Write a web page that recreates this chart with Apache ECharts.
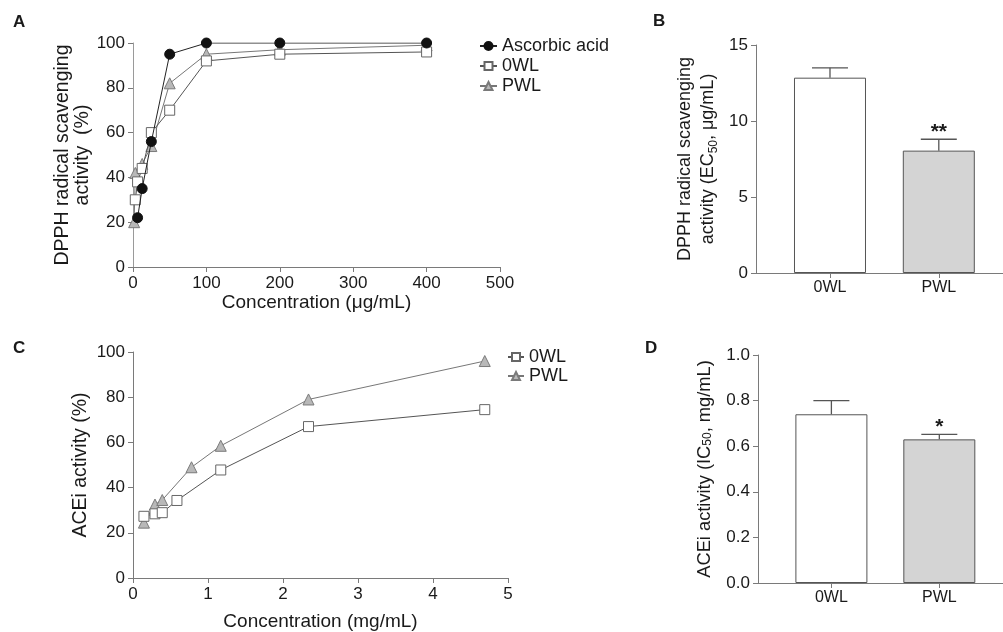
<!DOCTYPE html>
<html>
<head>
<meta charset="utf-8">
<script src="https://cdn.jsdelivr.net/npm/echarts@6/dist/echarts.min.js"></script>
<style>
  html, body { margin: 0; padding: 0; background: #fff; }
  #chart { width: 1003px; height: 632px; }
</style>
</head>
<body>
<div id="chart"></div>
<script>
// panel A - DPPH radical scavenging (%), concentration in ug/mL
var ascorbicX = [6.25, 12.5, 25, 50, 100, 200, 400];
var ascorbicY = [22, 35, 56, 95, 100, 100, 100];
var owlAX = [3.125, 6.25, 12.5, 25, 50, 100, 200, 400];
var owlAY = [30, 38, 44, 60, 70, 92, 95, 96];
var pwlAX = [1.5625, 3.125, 12.5, 25, 50, 100, 200, 400];
var pwlAY = [20, 42, 46, 54, 82, 95, 97, 99];

// panel B - EC50 (ug/mL)
var groups = ['0WL', 'PWL'];
var ec50Mean = [12.85, 8.05];
var ec50Err = [0.65, 0.75];
var ec50Sig = ['', '**'];

// panel C - ACEi activity (%), concentration in mg/mL
var owlCX = [0.146, 0.293, 0.39, 0.586, 1.17, 2.34, 4.69];
var owlCY = [27.3, 28.4, 28.9, 34.3, 47.8, 67, 74.5];
var pwlCX = [0.146, 0.293, 0.39, 0.78, 1.17, 2.34, 4.69];
var pwlCY = [24.5, 32.5, 34.5, 49, 58.5, 79, 96];

// panel D - IC50 (mg/mL)
var ic50Mean = [0.74, 0.63];
var ic50Err = [0.06, 0.022];
var ic50Sig = ['', '*'];

var FONT = '"Liberation Sans", Arial, sans-serif';
var TXT = '#1a1a1a';
var AXC = '#7a7a7a';

function zip(xs, ys) {
    return xs.map(function (x, i) { return [x, ys[i]]; });
}

function valueAxis(idx, min, max, interval, extra) {
    var ax = {
        type: 'value',
        gridIndex: idx,
        min: min,
        max: max,
        interval: interval,
        splitLine: { show: false },
        axisLine: { show: true, onZero: false, lineStyle: { color: AXC, width: 1 } },
        axisTick: { show: true, length: 5, lineStyle: { color: AXC } },
        axisLabel: { color: TXT, fontSize: 17, fontFamily: FONT, margin: 8 },
        nameTextStyle: { color: TXT, fontSize: 19, fontFamily: FONT }
    };
    for (var k in extra) ax[k] = extra[k];
    return ax;
}

// x axis for the bar panels: value axis so bars sit where the reference has them
function barXAxis(idx) {
    return {
        type: 'value',
        gridIndex: idx,
        min: -0.68,
        max: 1.59,
        splitLine: { show: false },
        axisLine: { show: true, onZero: false, lineStyle: { color: AXC, width: 1 } },
        axisTick: { show: true, length: 5, customValues: [0, 1], lineStyle: { color: AXC } },
        axisLabel: {
            customValues: [0, 1], color: TXT, fontSize: 16, fontFamily: FONT, margin: 7,
            formatter: function (v) { return groups[Math.round(v)]; }
        }
    };
}

function barData(means) {
    return means.map(function (m, i) {
        return {
            value: [i, m],
            itemStyle: { color: i === 0 ? '#ffffff' : '#d4d4d4', borderColor: '#555', borderWidth: 1 }
        };
    });
}

function errData(means, errs) {
    return means.map(function (m, i) { return [i, m, errs[i]]; });
}

var sigLookup = {};

function renderErr(params, api) {
    var x = api.value(0), m = api.value(1), e = api.value(2);
    var sig = sigLookup[params.seriesIndex][params.dataIndex];
    var base = api.coord([x, m]);
    var top = api.coord([x, m + e]);
    var st = { stroke: '#555', lineWidth: 1.3 };
    return {
        type: 'group',
        children: [
            { type: 'line', shape: { x1: base[0], y1: base[1], x2: top[0], y2: top[1] }, style: st },
            { type: 'line', shape: { x1: top[0] - 18, y1: top[1], x2: top[0] + 18, y2: top[1] }, style: st },
            { type: 'text', x: top[0], y: top[1] + 3,
              style: { text: sig, fill: TXT, font: 'bold 21px ' + FONT, align: 'center', verticalAlign: 'bottom' } }
        ]
    };
}

function lineSeries(name, data, xi, yi, opts) {
    var s = { type: 'line', name: name, xAxisIndex: xi, yAxisIndex: yi, data: data, showAllSymbol: true, animation: false };
    for (var k in opts) s[k] = opts[k];
    return s;
}

var ascStyle = {
    symbol: 'circle', symbolSize: 10, z: 5,
    lineStyle: { color: '#222', width: 1 },
    itemStyle: { color: '#111', borderColor: '#111', borderWidth: 1 }
};
var owlStyle = {
    symbol: 'rect', symbolSize: 10, z: 4,
    lineStyle: { color: '#555', width: 1 },
    itemStyle: { color: '#ffffff', borderColor: '#666', borderWidth: 1 }
};
var pwlStyle = {
    symbol: 'triangle', symbolSize: 11, z: 3,
    lineStyle: { color: '#777', width: 1 },
    itemStyle: { color: '#b8b8b8', borderColor: '#7a7a7a', borderWidth: 1 }
};

var chart = echarts.init(document.getElementById('chart'), null, { renderer: 'canvas' });

var series = [
    lineSeries('PWL', zip(pwlAX, pwlAY), 0, 0, pwlStyle),
    lineSeries('0WL', zip(owlAX, owlAY), 0, 0, owlStyle),
    lineSeries('Ascorbic acid', zip(ascorbicX, ascorbicY), 0, 0, ascStyle),
    { type: 'bar', xAxisIndex: 1, yAxisIndex: 1, barWidth: 72, data: barData(ec50Mean), animation: false },
    { type: 'custom', xAxisIndex: 1, yAxisIndex: 1, renderItem: renderErr, data: errData(ec50Mean, ec50Err), z: 4, animation: false },
    lineSeries('PWL', zip(pwlCX, pwlCY), 2, 2, pwlStyle),
    lineSeries('0WL', zip(owlCX, owlCY), 2, 2, owlStyle),
    { type: 'bar', xAxisIndex: 3, yAxisIndex: 3, barWidth: 72, data: barData(ic50Mean), animation: false },
    { type: 'custom', xAxisIndex: 3, yAxisIndex: 3, renderItem: renderErr, data: errData(ic50Mean, ic50Err), z: 4, animation: false }
];
sigLookup[4] = ec50Sig;
sigLookup[8] = ic50Sig;

var letterStyle = { fontSize: 17, fontWeight: 'bold', color: TXT, fontFamily: FONT };
var subRich = { sub: { fontSize: 12, verticalAlign: 'bottom', padding: [7, 0, 0, 0], fontFamily: FONT, color: TXT } };

chart.setOption({
    backgroundColor: '#fff',
    animation: false,
    textStyle: { fontFamily: FONT },
    title: [
        { text: 'A', left: 13, top: 14, textStyle: letterStyle, padding: 0 },
        { text: 'B', left: 653, top: 13, textStyle: letterStyle, padding: 0 },
        { text: 'C', left: 13, top: 340, textStyle: letterStyle, padding: 0 },
        { text: 'D', left: 645, top: 340, textStyle: letterStyle, padding: 0 }
    ],
    grid: [
        { left: 133, top: 43, width: 367, height: 224 },
        { left: 756, top: 45, width: 247, height: 228 },
        { left: 133, top: 352, width: 375, height: 228 },
        { left: 758, top: 355, width: 245, height: 228 }
    ],
    legend: [
        {
            orient: 'vertical', left: 479, top: 37, padding: 0, itemWidth: 17, itemHeight: 10, itemGap: 2,
            data: ['Ascorbic acid', '0WL', 'PWL'],
            textStyle: { color: TXT, fontSize: 18, fontFamily: FONT }
        },
        {
            orient: 'vertical', left: 507, top: 348, padding: 0, itemWidth: 16, itemHeight: 10, itemGap: 1,
            data: ['0WL', 'PWL'],
            textStyle: { color: TXT, fontSize: 18, fontFamily: FONT }
        }
    ],
    xAxis: [
        valueAxis(0, 0, 500, 100, { name: 'Concentration (μg/mL)', nameLocation: 'middle', nameGap: 25 }),
        barXAxis(1),
        valueAxis(2, 0, 5, 1, { name: 'Concentration (mg/mL)', nameLocation: 'middle', nameGap: 34 }),
        barXAxis(3)
    ],
    yAxis: [
        valueAxis(0, 0, 100, 20, {
            name: 'DPPH radical scavenging\nactivity  (%)', nameLocation: 'middle', nameGap: 39,
            nameTextStyle: { color: TXT, fontSize: 19.5, fontFamily: FONT, lineHeight: 20 },
            axisLine: { show: true, onZero: false, lineStyle: { color: '#9a9a9a', width: 1 } }
        }),
        valueAxis(1, 0, 15, 5, {
            name: 'DPPH radical scavenging\nactivity (EC{sub|50}, μg/mL)', nameLocation: 'middle', nameGap: 36,
            nameTextStyle: { color: TXT, fontSize: 18, fontFamily: FONT, lineHeight: 23, rich: subRich }
        }),
        valueAxis(2, 0, 100, 20, { name: 'ACEi activity (%)', nameLocation: 'middle', nameGap: 42,
            nameTextStyle: { color: TXT, fontSize: 19.5, fontFamily: FONT } }),
        valueAxis(3, 0, 1, 0.2, {
            name: 'ACEi activity (IC{sub|50}, mg/mL)', nameLocation: 'middle', nameGap: 44,
            nameTextStyle: { color: TXT, fontSize: 18.3, fontFamily: FONT, rich: subRich },
            axisLabel: { color: TXT, fontSize: 17, fontFamily: FONT, margin: 8,
                formatter: function (v) { return v.toFixed(1); } }
        })
    ],
    series: series
});
</script>
</body>
</html>
